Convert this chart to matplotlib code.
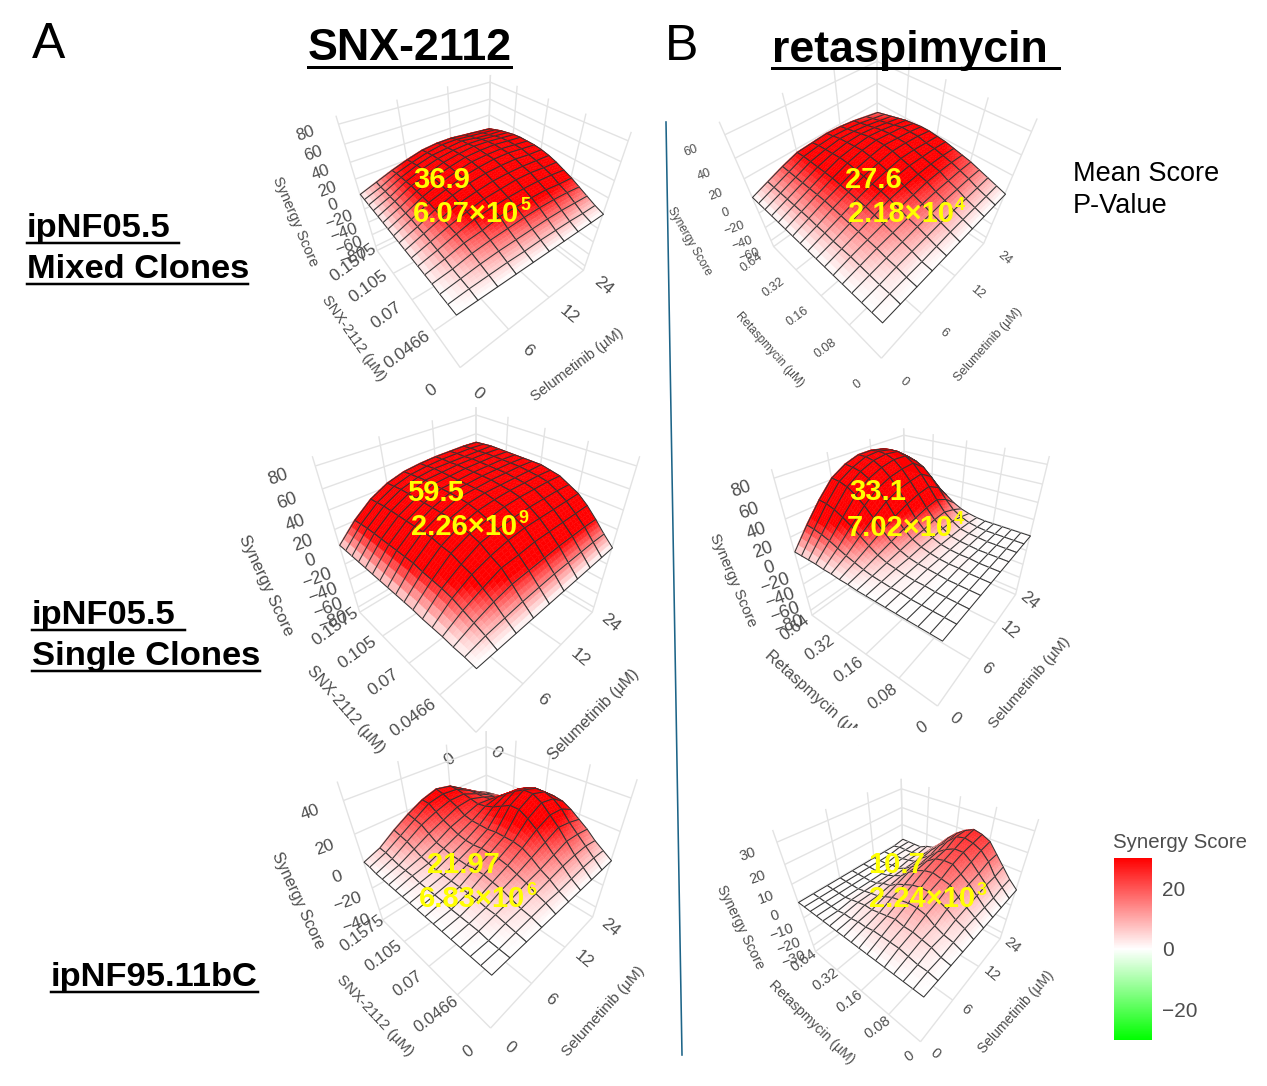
import numpy as np
import matplotlib
matplotlib.use("Agg")
import matplotlib.pyplot as plt
from matplotlib.colors import LinearSegmentedColormap, Normalize
from matplotlib.cm import ScalarMappable
from matplotlib.lines import Line2D
from matplotlib.patches import Rectangle
from mpl_toolkits.mplot3d import proj3d
from mpl_toolkits.mplot3d.art3d import Poly3DCollection

plt.rcParams['font.family'] = ['Liberation Sans', 'DejaVu Sans']

selumetinib_ticks = ["0", "6", "12", "24"]
snx_ticks = ["0", "0.0466", "0.07", "0.105", "0.1575"]
reta_ticks = ["0", "0.08", "0.16", "0.32", "0.64"]

# rows: selumetinib mesh steps; columns: second-drug mesh steps
score_snx_mixed = [
 [0,0,0,1,1,1,1,1,1,1,1,1,1,1,1,1,1],
 [0,2,3,4,6,7,8,9,9,10,10,10,10,9,9,8,8],
 [0,3,6,9,12,14,15,17,19,20,20,20,20,19,18,17,15],
 [0,4,8,12,15,20,21,24,26,26,27,27,26,26,25,23,21],
 [0,4,9,14,20,23,26,28,31,32,32,32,32,31,30,28,26],
 [0,5,10,16,21,25,28,31,34,35,36,36,35,34,32,31,28],
 [0,5,11,17,22,26,30,32,35,37,37,37,37,35,34,31,28],
 [0,5,11,17,22,26,30,32,35,37,37,37,36,34,31,29,26],
 [0,4,10,16,20,25,28,31,33,35,35,35,34,32,29,27,24],
 [0,4,9,14,19,23,27,30,32,33,33,33,32,30,28,25,22],
]
score_snx_single = [
 [0,1,1,2,2,2,3,3,3,3,3,3,3,3,3,3,3],
 [0,5,9,13,17,19,20,21,23,23,23,23,23,23,23,22,21],
 [0,7,15,21,27,30,34,35,37,37,37,37,37,37,37,36,35],
 [0,9,19,28,33,39,42,44,46,46,46,46,46,46,46,45,44],
 [0,10,20,29,37,42,46,49,51,52,52,52,52,52,51,50,49],
 [0,11,21,31,39,44,49,51,53,53,53,53,53,53,53,52,51],
 [0,11,22,31,39,45,50,52,53,54,54,54,54,54,53,53,52],
 [0,11,22,31,39,45,50,52,53,54,54,54,54,54,53,53,52],
 [0,11,22,31,39,45,50,52,53,54,54,54,54,54,53,53,52],
 [0,10,21,31,39,44,49,51,53,53,53,53,53,53,53,52,51],
]
score_snx_95 = [
 [0,0,0,0,0,0,0,0,0,0,0,0,0,0,0,1,1],
 [0,0,0,1,1,1,1,2,2,2,2,3,3,3,4,5,5],
 [0,1,2,3,3,4,4,4,4,4,4,5,6,8,10,11,12],
 [0,2,3,5,7,8,9,9,8,8,8,9,10,13,16,17,18],
 [0,3,5,8,10,12,13,13,13,12,12,13,15,17,20,23,23],
 [0,3,7,10,14,17,18,18,18,17,17,17,18,21,23,25,26],
 [0,4,9,13,18,23,27,30,30,27,24,22,21,22,23,24,24],
 [0,5,10,16,22,27,32,35,35,32,28,24,20,19,19,19,18],
 [0,5,10,15,20,26,30,32,32,30,27,22,18,15,14,13,12],
 [0,4,8,13,17,21,24,25,25,24,22,18,14,11,9,8,7],
]
score_reta_mixed = [
 [0,0,0,0,0,0,0,0,0,0,0,0,0,0,0,0,0],
 [0,1,1,2,3,4,4,4,5,5,6,6,6,6,6,6,6],
 [0,1,3,4,6,7,8,9,10,11,12,12,12,12,12,12,12],
 [0,1,4,6,8,10,12,14,15,16,17,18,18,18,18,18,17],
 [0,2,5,8,10,13,16,18,19,21,22,23,23,22,21,20,18],
 [0,3,6,9,12,15,18,21,22,24,25,26,25,24,23,21,19],
 [0,3,6,10,13,17,19,22,24,26,27,27,26,24,22,20,18],
 [0,3,6,10,13,17,19,21,23,25,25,25,24,22,20,18,16],
 [0,3,6,10,13,16,18,20,21,23,23,23,21,19,17,15,13],
 [0,3,6,9,12,14,16,18,19,20,20,19,18,16,14,12,10],
]
score_reta_single = [
 [0,0,0,0,0,0,0,0,0,1,1,2,2,3,3,3,3],
 [0,0,0,0,0,1,1,2,3,5,8,11,15,19,22,24,25],
 [0,0,0,0,1,1,2,4,6,10,16,23,30,36,41,44,45],
 [0,0,0,0,1,2,3,5,9,15,24,34,44,52,58,61,62],
 [0,0,0,1,1,2,4,7,12,20,31,44,55,63,68,70,71],
 [0,0,0,1,1,2,4,8,14,24,37,50,61,69,74,76,76],
 [0,0,0,0,1,2,4,10,17,28,41,53,64,72,76,77,76],
 [0,0,0,0,1,2,4,10,18,30,43,55,65,71,74,74,73],
 [0,0,0,0,0,1,3,7,13,23,35,46,55,60,63,63,62],
 [0,0,0,0,0,0,1,3,6,11,18,25,31,35,37,37,36],
]
score_reta_95 = [
 [0,0,0,0,0,0,0,0,0,0,0,0,0,0,0,0,0],
 [0,1,1,2,3,3,3,3,2,2,1,1,0,0,0,0,0],
 [0,1,3,4,5,5,6,5,4,3,3,2,1,0,0,0,0],
 [0,2,3,5,8,9,9,8,7,5,3,2,1,0,0,0,0],
 [0,3,5,8,10,12,12,11,9,7,4,3,1,0,0,0,0],
 [0,3,6,9,13,14,15,14,12,9,5,3,1,0,0,0,0],
 [0,3,7,11,14,17,17,16,13,9,6,3,1,1,0,0,0],
 [0,3,8,12,16,19,19,17,14,10,7,3,2,1,1,0,0],
 [0,4,8,14,18,20,21,20,16,12,8,4,2,1,1,1,0],
 [0,4,9,14,19,21,22,20,17,13,8,4,3,1,1,1,1],
]

W, H = 1267, 1086
GREY = '#4d4d4d'
cmap = LinearSegmentedColormap.from_list('syn', ['#00ff00', '#ffffff', '#ff0000'])
norm = Normalize(-30, 30)

fig = plt.figure(figsize=(W / 100, H / 100), dpi=100, facecolor='white')


def tx(x, y, s, size, color='black', weight='normal', rot=0, ha='left', z=10):
    dy = size * 0.13 if rot == 0 else 0
    fig.text(x / W, 1 - (y + dy) / H, s, fontsize=size, color=color, fontweight=weight,
             rotation=rot, ha=ha, va='center', rotation_mode='anchor', zorder=z)


def hline(x0, y0, x1, y1, width, color='black', z=10):
    fig.add_artist(Line2D([x0 / W, x1 / W], [1 - y0 / H, 1 - y1 / H], color=color,
                          lw=width * 0.72, transform=fig.transFigure, zorder=z))


def fit_axes(ax, near, left, right, xmax, ymax):
    s0 = 500.0
    ax.set_position([0, 0, s0 / W, s0 / H])
    xs = np.array([0, 0, xmax], float)
    ys = np.array([0, ymax, 0], float)
    zs = np.zeros(3)
    X, Y, _ = proj3d.proj_transform(xs, ys, zs, ax.get_proj())
    pts = ax.transData.transform(np.column_stack([X, Y])) / s0
    S = (right[0] - left[0]) / (pts[2, 0] - pts[1, 0])
    x0 = left[0] - pts[1, 0] * S
    targets = np.array([H - near[1], H - left[1], H - right[1]], float)
    y0 = np.mean(targets - pts[[0, 1, 2], 1] * S)
    ax.set_position([x0 / W, y0 / H, S / W, S / H])


def panel(score, yt, zticks, zlim, view, corners, fonts, off, vmax):
    elev, azim, focal, zasp = view
    tick_fs, ztick_fs = fonts
    Z = np.array(score, float)
    nx, ny = Z.shape
    face_norm = Normalize(-vmax, vmax)
    ax = fig.add_axes([0, 0, 0.4, 0.4], projection='3d', computed_zorder=False)
    ax.set_facecolor('none')
    ax.patch.set_visible(False)
    ax.set_proj_type('persp', focal_length=focal)
    ax.view_init(elev=elev, azim=azim)
    ax.set_box_aspect((1, 1, zasp), zoom=1)
    ax.set_xlim(0, nx - 1)
    ax.set_ylim(0, ny - 1)
    ax.set_zlim(*zlim)
    xpos = np.linspace(0, nx - 1, len(selumetinib_ticks))
    ypos = np.linspace(0, ny - 1, len(yt))
    ax.set_xticks(xpos)
    ax.set_yticks(ypos)
    ax.set_zticks(zticks)
    ax.set_xticklabels([])
    ax.set_yticklabels([])
    ax.set_zticklabels([])
    for a in (ax.xaxis, ax.yaxis, ax.zaxis):
        a.set_pane_color((1, 1, 1, 0))
        a.pane.set_edgecolor((1, 1, 1, 0))
        a.line.set_color((1, 1, 1, 0))
        a._axinfo['grid'].update(color='#e3e3e3', linewidth=1.0, linestyle='-')
        a._axinfo['tick'].update(inward_factor=0, outward_factor=0)
    fit_axes(ax, corners[0], corners[1], corners[2], nx - 1, ny - 1)

    # cells painted back to front; each cell carries its own fine colour gradient
    n = 4
    t = np.linspace(0, 1, n + 1)
    order = 5
    for i in range(nx - 2, -1, -1):
        for j in range(ny - 2, -1, -1):
            z00, z01, z10, z11 = Z[i, j], Z[i, j + 1], Z[i + 1, j], Z[i + 1, j + 1]
            polys, cols = [], []
            for a in range(n):
                for b in range(n):
                    quad = []
                    vals = []
                    for (ta, tb) in ((t[a], t[b]), (t[a + 1], t[b]), (t[a + 1], t[b + 1]), (t[a], t[b + 1])):
                        v = (z00 * (1 - ta) * (1 - tb) + z10 * ta * (1 - tb)
                             + z01 * (1 - ta) * tb + z11 * ta * tb)
                        quad.append((i + ta, j + tb, v))
                        vals.append(v)
                    polys.append(quad)
                    cols.append(cmap(face_norm(np.mean(vals))))
            pc = Poly3DCollection(polys, facecolors=cols, edgecolors=cols, linewidths=0.3)
            pc.set_zorder(order)
            ax.add_collection3d(pc, autolim=False)
            order += 1
            outline = [[(i, j, z00), (i + 1, j, z10), (i + 1, j + 1, z11), (i, j + 1, z01)]]
            oc = Poly3DCollection(outline, facecolors=(1, 1, 1, 0), edgecolors='#333333', linewidths=0.75)
            oc.set_zorder(order)
            ax.add_collection3d(oc, autolim=False)
            order += 1

    M = ax.get_proj()

    def label(x, y, z, s, fs, rot):
        X, Y, _ = proj3d.proj_transform(x, y, z, M)
        ax.text2D(X, Y, s, transform=ax.transData, fontsize=fs, color=GREY, rotation=rot,
                  ha='center', va='center', rotation_mode='anchor', zorder=9000)

    fx, fy, fz = off
    zfloor = zlim[0]
    for p, s in zip(xpos, selumetinib_ticks):
        label(p, -fy * (ny - 1), zfloor, s, tick_fs, -40)
    for p, s in zip(ypos, yt):
        label(-fx * (nx - 1), p, zfloor, s, tick_fs, 36)
    for p in zticks:
        label(-fz * (nx - 1), ny - 1, p, str(p).replace('-', '\u2212'), ztick_fs, 20)
    return ax


panel(score_snx_mixed, snx_ticks, list(range(-80, 81, 20)), (-88, 88), (40, -128, 0.2, 1.0),
      ((458, 308), (360, 195), (603, 220)), (12.5, 12), (0.17, 0.15, 0.16), 20)
panel(score_snx_single, snx_ticks, list(range(-80, 81, 20)), (-88, 88), (38, -135, 0.2, 1.0),
      ((478, 665), (340, 548), (612, 550)), (12.5, 13), (0.16, 0.12, 0.16), 22)
panel(score_snx_95, snx_ticks, [-40, -20, 0, 20, 40], (-50, 50), (40, -136, 0.2, 1.0),
      ((492, 969), (364, 866), (611, 863)), (12, 12.5), (0.15, 0.13, 0.16), 24)
panel(score_reta_mixed, reta_ticks, list(range(-60, 61, 20)), (-70, 70), (48, -136, 0.2, 1.0),
      ((882, 320), (752, 196), (1005, 197)), (9, 9), (0.17, 0.16, 0.16), 18)
panel(score_reta_single, reta_ticks, list(range(-80, 81, 20)), (-88, 88), (34, -143, 0.2, 1.0),
      ((923, 637), (795, 550), (1030, 543)), (12, 13), (0.13, 0.10, 0.16), 30)
panel(score_reta_95, reta_ticks, list(range(-30, 31, 10)), (-35, 35), (41, -140, 0.2, 1.0),
      ((918, 995), (798, 902), (1016, 891)), (10.5, 10.5), (0.10, 0.10, 0.16), 26)

# axis titles
for x, y, s, size, rot in [
    (295, 222, "Synergy Score", 10.5, -67), (354, 338, "SNX-2112 (\u00b5M)", 10.5, -55), (577, 365, "Selumetinib (\u00b5M)", 10.5, 37),
    (266, 585, "Synergy Score", 12, -65), (346, 710, "SNX-2112 (\u00b5M)", 11.5, -49), (594, 715, "Selumetinib (\u00b5M)", 11.5, 45),
    (298, 900, "Synergy Score", 11.5, -65), (375, 1016, "SNX-2112 (\u00b5M)", 11, -47), (604, 1011, "Selumetinib (\u00b5M)", 11, 48),
    (689, 241, "Synergy Score", 8.5, -60), (770, 350, "Retaspmycin (\u00b5M)", 8.5, -48), (988, 345, "Selumetinib (\u00b5M)", 9, 48),
    (733, 580, "Synergy Score", 11, -67), (815, 697, "Retaspmycin (\u00b5M)", 11.5, -42), (1030, 683, "Selumetinib (\u00b5M)", 11, 49),
    (740, 927, "Synergy Score", 10, -64), (812, 1022, "Retaspmycin (\u00b5M)", 10, -44), (1016, 1012, "Selumetinib (\u00b5M)", 10, 48),
]:
    tx(x, y, s, size, color=GREY, rot=rot, ha='center')

fig.add_artist(Rectangle((835 / W, 1 - 745 / H), 40 / W, 17 / H, transform=fig.transFigure,
                         facecolor='white', edgecolor='none', zorder=11))

# headings
tx(32, 40, "A", 36)
tx(665, 42, "B", 36)
tx(308, 44, "SNX-2112", 32.2, weight='bold')
hline(308, 67, 511, 67, 3)
tx(772, 46, "retaspimycin", 32.2, weight='bold')
hline(772, 68, 1059, 68, 3)
for x, y, s, x1 in [(27, 225, "ipNF05.5", 179), (27, 266, "Mixed Clones", 248),
                    (32, 612, "ipNF05.5", 185), (32, 653, "Single Clones", 260),
                    (51, 974, "ipNF95.11bC", 258)]:
    tx(x, y, s, 24.8, weight='bold')
    hline(x, y + 18, x1, y + 18, 2.5)
tx(1073, 171, "Mean Score", 19.5)
tx(1073, 203, "P-Value", 19.5)
hline(666, 122, 682, 1055, 1.6, color='#1d6488')

# yellow annotations: mean score, p-value mantissa, exponent
YEL = '#ffff00'
for x0, y0, s0, x1, y1, s1, e, ex in [
    (413, 177, "36.9", 413, 211, "6.07\u00d710", "5", 520),
    (407, 490, "59.5", 411, 524, "2.26\u00d710", "9", 518),
    (427, 862, "21.97", 419, 896, "6.83\u00d710", "6", 526),
    (845, 177, "27.6", 848, 211, "2.18\u00d710", "4", 955),
    (849, 489, "33.1", 847, 525, "7.02\u00d710", "4", 954),
    (868, 862, "10.7", 869, 896, "2.24\u00d710", "3", 977),
]:
    tx(x0, y0, s0, 21, color=YEL, weight='bold')
    tx(x1, y1, s1, 21, color=YEL, weight='bold')
    tx(ex, y1 - 7, e, 13, color=YEL, weight='bold')

# legend
tx(1113, 841, "Synergy Score", 14.7, color=GREY)
cax = fig.add_axes([1114 / W, 1 - 1040 / H, 38 / W, 182 / H])
cb = fig.colorbar(ScalarMappable(norm=norm, cmap=cmap), cax=cax, ticks=[-20, 0, 20])
cb.outline.set_visible(False)
cb.ax.tick_params(length=0, labelsize=15, labelcolor=GREY, pad=7)

fig.savefig('out.png', dpi=100)
